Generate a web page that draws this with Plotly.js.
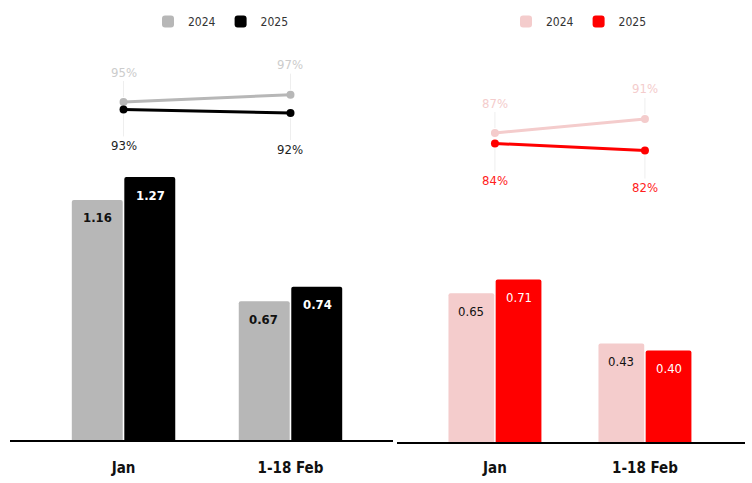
<!DOCTYPE html>
<html>
<head>
<meta charset="utf-8">
<script src="https://cdn.plot.ly/plotly-3.0.1.min.js"></script>
<style>
  html, body { margin: 0; padding: 0; background: #fff; }
  #chart { width: 752px; height: 483px; }
</style>
</head>
<body>
<div id="chart"></div>
<script>
// categories
const periods = ['Jan', '1-18 Feb'];
const years = ['2024', '2025'];

// left panel (grey / black)
const leftBars2024 = [1.16, 0.67];
const leftBars2025 = [1.27, 0.74];
const leftPct2024 = [95, 97];
const leftPct2025 = [93, 92];

// right panel (pink / red)
const rightBars2024 = [0.65, 0.43];
const rightBars2025 = [0.71, 0.40];
const rightPct2024 = [87, 91];
const rightPct2025 = [84, 82];

const colors = {
  left:  { y2024: '#b7b7b7', y2025: '#000000', lbl2024: '#cccccc', lbl2025: '#222222' },
  right: { y2024: '#f4cccc', y2025: '#ff0000', lbl2024: '#f4cccc', lbl2025: '#ff2020' }
};

const FONT = '"DejaVu Sans Condensed", "Liberation Sans Narrow", Roboto, sans-serif';
const H = 483, W = 752;
const py = px => (H - px) / H;   // pixel-from-top -> paper y
const pxx = px => px / W;

function barTrace(x, y, name, color, xa, ya, legend) {
  return {
    type: 'bar', x: x, y: y, name: name, xaxis: xa, yaxis: ya, legend: legend,
    marker: { color: color, line: { width: 0 } },
    hoverinfo: 'skip'
  };
}

function lineTrace(x, y, color, xa, ya) {
  return {
    type: 'scatter', mode: 'lines+markers', x: x, y: y, xaxis: xa, yaxis: ya,
    line: { color: color, width: 3 },
    marker: { color: color, size: 8 },
    showlegend: false, hoverinfo: 'skip', cliponaxis: false
  };
}

// value labels sitting just under the top of each bar
function barLabels(x, y, color, xref, yref, xshift, bold) {
  return x.map((cat, i) => ({
    x: cat, y: y[i], xref: xref, yref: yref, xshift: xshift, yshift: -18,
    yanchor: 'middle', showarrow: false, text: y[i].toFixed(2),
    font: { family: FONT, size: 13, color: color, weight: bold ? 'bold' : 'normal' }
  }));
}

function pctLabels(x, y, color, xref, yref, ay) {
  return x.map((cat, i) => ({
    x: cat, y: y[i], xref: xref, yref: yref,
    text: y[i] + '%', showarrow: true, arrowhead: 0, arrowwidth: 1,
    arrowcolor: '#eeeeee', ax: 0, ay: ay, standoff: 5, startstandoff: 0,
    font: { family: FONT, size: 13, color: color }
  }));
}

const data = [
  barTrace(periods, leftBars2024, years[0], colors.left.y2024, 'x', 'y', 'legend'),
  barTrace(periods, leftBars2025, years[1], colors.left.y2025, 'x', 'y', 'legend'),
  barTrace(periods, rightBars2024, years[0], colors.right.y2024, 'x2', 'y2', 'legend2'),
  barTrace(periods, rightBars2025, years[1], colors.right.y2025, 'x2', 'y2', 'legend2'),
  lineTrace(periods, leftPct2024, colors.left.y2024, 'x3', 'y3'),
  lineTrace(periods, leftPct2025, colors.left.y2025, 'x3', 'y3'),
  lineTrace(periods, rightPct2024, colors.right.y2024, 'x4', 'y4'),
  lineTrace(periods, rightPct2025, colors.right.y2025, 'x4', 'y4')
];

const leftDom = [pxx(10), pxx(393)];
const rightDom = [pxx(397), pxx(745)];
const leftRange = [-0.68, 1.614];
const rightRange = [-0.653, 1.667];

const tickFont = { family: FONT, size: 15, color: '#111', weight: 'bold' };
const hiddenY = { showgrid: false, zeroline: false, showticklabels: false, showline: false };
const hiddenX = { type: 'category', showgrid: false, zeroline: false, showticklabels: false, showline: false };

const layout = {
  width: W, height: H,
  margin: { l: 0, r: 0, t: 0, b: 0 },
  paper_bgcolor: '#fff', plot_bgcolor: 'rgba(0,0,0,0)',
  font: { family: FONT },
  barmode: 'group', bargap: 0.371, bargroupgap: 0.03,
  barcornerradius: 2,
  xaxis: {
    type: 'category', domain: leftDom, range: leftRange, anchor: 'y',
    showline: true, linecolor: '#000', linewidth: 1.5, showgrid: false,
    ticks: '', tickfont: tickFont, ticklabelstandoff: 13
  },
  yaxis: Object.assign({ domain: [py(440), py(170)], range: [0, 270 / 207], anchor: 'x' }, hiddenY),
  xaxis2: {
    type: 'category', domain: rightDom, range: rightRange, anchor: 'y2',
    showline: true, linecolor: '#000', linewidth: 1.5, showgrid: false,
    ticks: '', tickfont: tickFont, ticklabelstandoff: 11
  },
  yaxis2: Object.assign({ domain: [py(442), py(170)], range: [0, 272 / 229], anchor: 'x2' }, hiddenY),
  xaxis3: Object.assign({ domain: leftDom, range: leftRange, anchor: 'y3' }, hiddenX),
  yaxis3: Object.assign({ domain: [py(160), py(40)], range: [79.3, 111.8], anchor: 'x3' }, hiddenY),
  xaxis4: Object.assign({ domain: rightDom, range: rightRange, anchor: 'y4' }, hiddenX),
  yaxis4: Object.assign({ domain: [py(200), py(40)], range: [67.86, 113.57], anchor: 'x4' }, hiddenY),
  legend: {
    orientation: 'h', x: pxx(148), y: py(7), xanchor: 'left', yanchor: 'top',
    font: { family: FONT, size: 12, color: '#333' }, itemwidth: 30, bgcolor: 'rgba(0,0,0,0)'
  },
  legend2: {
    orientation: 'h', x: pxx(506), y: py(7), xanchor: 'left', yanchor: 'top',
    font: { family: FONT, size: 12, color: '#333' }, itemwidth: 30, bgcolor: 'rgba(0,0,0,0)'
  },
  annotations: [].concat(
    barLabels(periods, leftBars2024, '#111111', 'x', 'y', -26.5, true),
    barLabels(periods, leftBars2025, '#ffffff', 'x', 'y', 27, true),
    barLabels(periods, rightBars2024, '#111111', 'x2', 'y2', -24, false),
    barLabels(periods, rightBars2025, '#ffffff', 'x2', 'y2', 24, false),
    pctLabels(periods, leftPct2024, colors.left.lbl2024, 'x3', 'y3', -30),
    pctLabels(periods, leftPct2025, colors.left.lbl2025, 'x3', 'y3', 36),
    pctLabels(periods, rightPct2024, colors.right.lbl2024, 'x4', 'y4', -30),
    pctLabels(periods, rightPct2025, colors.right.lbl2025, 'x4', 'y4', 37)
  )
};

Plotly.newPlot('chart', data, layout, { displayModeBar: false, staticPlot: true });
</script>
</body>
</html>
